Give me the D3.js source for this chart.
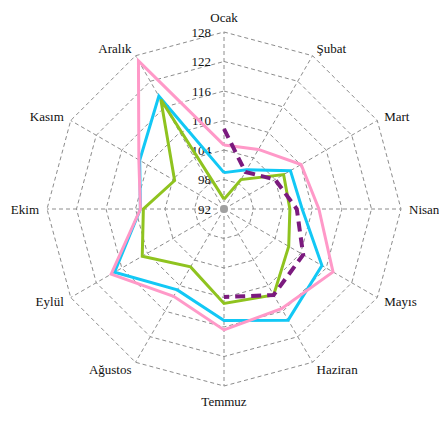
<!DOCTYPE html>
<html><head><meta charset="utf-8">
<script src="https://cdn.jsdelivr.net/npm/d3@7"></script>
<style>body{margin:0;background:#fff}svg{display:block}
text{font-family:"Liberation Serif","DejaVu Serif","Times New Roman",serif;font-size:13px;fill:#111}</style>
</head><body>
<svg id="c" width="439" height="421"></svg>
<script>
const categories = ["Ocak","Şubat","Mart","Nisan","Mayıs","Haziran","Temmuz","Ağustos","Eylül","Ekim","Kasım","Aralık"];
const tickValues = [92, 98, 104, 110, 116, 122, 128];
const seriesCyan   = [99.4, 101.2, 107.6, 107.9, 115.0, 118.1, 114.7, 111.0, 117.7, 109.0, 111.8, 118.5];
const seriesGreen  = [94.0, 98.9, 106.0, 105.4, 107.2, 112.2, 111.2, 105.6, 111.2, 108.4, 103.6, 117.7];
const seriesPink   = [105.0, 106.0, 110.1, 111.3, 117.6, 115.4, 116.6, 112.5, 118.5, 109.0, 112.0, 126.8];
const seriesPurple = [108.3, 100.7, 104.0, 106.8, 110.6, 112.2, 109.9, null, null, null, null, null];

const svg = d3.select("#c");
const cx = 224, cy = 209, R = 177;
const r = d3.scaleLinear().domain([92, 128]).range([0, R]);
const n = categories.length;
const ang = i => i * 2 * Math.PI / n;
const px = (i, v) => cx + r(v) * Math.sin(ang(i));
const py = (i, v) => cy - r(v) * Math.cos(ang(i));

const grid = svg.append("g");
tickValues.slice(1).forEach(t => {
  const pts = categories.map((c, i) => [px(i, t), py(i, t)]);
  grid.append("polygon").attr("points", pts.map(p => p.join(",")).join(" "))
    .attr("fill", "none").attr("stroke", "#8c8c8c").attr("stroke-width", 1)
    .attr("stroke-dasharray", "4,3");
});
categories.forEach((c, i) => {
  grid.append("line").attr("x1", cx).attr("y1", cy)
    .attr("x2", px(i, 128)).attr("y2", py(i, 128))
    .attr("stroke", "#8c8c8c").attr("stroke-width", 1).attr("stroke-dasharray", "4,3");
});
grid.append("circle").attr("cx", cx).attr("cy", cy).attr("r", 4).attr("fill", "#a0a0a0");

// tick labels
svg.append("g").selectAll("text").data(tickValues).join("text")
  .attr("x", cx - 13).attr("y", d => cy - r(d))
  .attr("text-anchor", "end").attr("dominant-baseline", "central")
  .text(d => d);

// category labels
svg.append("g").selectAll("text").data(categories).join("text")
  .each(function(d, i) {
    const s = Math.sin(ang(i)), co = Math.cos(ang(i));
    const LR = Math.abs(s) < 0.01 ? 192 : 185;
    d3.select(this)
      .attr("x", cx + LR * s).attr("y", cy - LR * co)
      .attr("text-anchor", s > 0.01 ? "start" : (s < -0.01 ? "end" : "middle"));
  })
  .attr("dominant-baseline", "central")
  .text(d => d);

const line = d3.line()
  .defined(d => d.v != null)
  .x(d => px(d.i, d.v)).y(d => py(d.i, d.v));
const closed = vals => { const a = vals.map((v, i) => ({i, v})); a.push({i: 0, v: vals[0]}); return a; };

const series = [
  {vals: seriesCyan, color: "#12c8f5", w: 3, dash: null, close: true},
  {vals: seriesGreen, color: "#8fc31f", w: 3, dash: null, close: true},
  {vals: seriesPink, color: "#ff99c8", w: 3, dash: null, close: true},
  {vals: seriesPurple, color: "#7b1a7e", w: 4, dash: "10,6", close: false}
];
series.forEach(s => {
  const data = s.close ? closed(s.vals) : s.vals.map((v, i) => ({i, v}));
  svg.append("path").attr("d", line(data))
    .attr("fill", "none").attr("stroke", s.color).attr("stroke-width", s.w)
    .attr("stroke-linejoin", "miter")
    .attr("stroke-dasharray", s.dash);
});
</script>
</body></html>
